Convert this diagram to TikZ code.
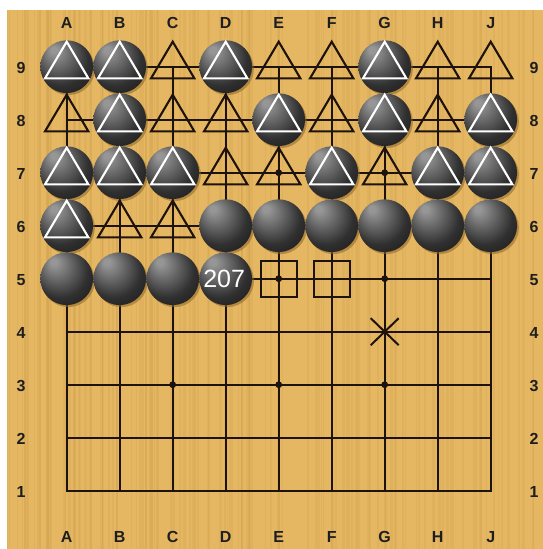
\documentclass[tikz,border=0pt]{standalone}
\usepackage{fontspec}
\setmainfont{Liberation Sans}
\usetikzlibrary{calc}
\definecolor{wood}{RGB}{229,183,98}
\definecolor{woodstripe}{RGB}{190,140,60}
\definecolor{gridc}{RGB}{30,18,12}
\definecolor{stonehi}{RGB}{150,150,150}
\definecolor{stonemid}{RGB}{48,48,48}
\definecolor{shadowc}{RGB}{140,100,40}
\definecolor{labelc}{RGB}{30,30,30}
\pgfdeclareradialshading{stoneshade}{\pgfpoint{-13bp}{17bp}}{color(0bp)=(stonehi); color(3bp)=(stonehi); color(26bp)=(stonemid); color(42bp)=(black!92); color(50bp)=(black)}
\tikzset{
  gridline/.style={draw=gridc, line width=1.7pt},
  lab/.style={font=\fontsize{16}{16}\selectfont\bfseries, text=labelc, inner sep=0pt},
  bstone/.pic={
    \fill[shadowc, opacity=0.55] (1.8,2.0) circle (26.4pt);
    \shade[shading=stoneshade] (0,0) circle (26.4pt);
  },
  tri/.pic={
    \draw[line width=2.1pt, line join=miter, pic actions] (0,-25) -- (-21.7,11.7) -- (21.7,11.7) -- cycle;
  },
  sq/.pic={
    \draw[draw=gridc, line width=2pt] (-18,-18) rectangle (18,18);
  },
  xmark/.pic={
    \draw[draw=gridc, line width=2pt] (-14,-13.5) -- (14,13.5) (-14,13.5) -- (14,-13.5);
  },
}
\begin{document}
\begin{tikzpicture}[x=1pt, y=-1pt]
  \path[use as bounding box, fill=white] (0,0) rectangle (543,549);
  \fill[wood] (7,10) rectangle (543,549);
  \pgfmathsetseed{7}
  \foreach \k in {1,...,140} {
    \pgfmathsetmacro\xx{7+rnd*533}
    \pgfmathsetmacro\ww{0.6+rnd*2.2}
    \fill[woodstripe, opacity=0.13] (\xx,10) rectangle (\xx+\ww,549);
  }
  % coordinates
  \foreach \c [count=\i from 0] in {A,B,C,D,E,F,G,H,J} {
    \foreach \r in {1,...,9} {
      \coordinate (\c\r) at ({66.7+53*\i},{66.7+53*(9-\r)});
    }
  }
  % grid
  \draw[gridline] (A1) rectangle (J9);
  \foreach \c in {B,C,D,E,F,G,H} { \draw[gridline] (\c1) -- (\c9); }
  \foreach \r in {2,...,8} { \draw[gridline] (A\r) -- (J\r); }
  % hoshi
  \foreach \p in {C3,E3,G3,C5,E5,G5,C7,E7,G7} { \fill[gridc] (\p) circle (3.4pt); }
  % labels
  \foreach \c [count=\i from 0] in {A,B,C,D,E,F,G,H,J} {
    \node[lab] (top\c) at ({66.7+53*\i},23) {\c};
    \node[lab] (bot\c) at ({66.7+53*\i},537) {\c};
  }
  \foreach \r in {1,...,9} {
    \node[lab] (left\r) at (21,{66.7+53*(9-\r)+1}) {\r};
    \node[lab] (right\r) at (534,{66.7+53*(9-\r)+1}) {\r};
  }
  % stones
  \foreach \p in {A9,B9,D9,G9,B8,E8,G8,J8,A7,B7,C7,F7,H7,J7,A6,D6,E6,F6,G6,H6,J6,A5,B5,C5,D5} {
    \pic at (\p) {bstone};
  }
  % white triangles on stones
  \foreach \p in {A9,B9,D9,G9,B8,E8,G8,J8,A7,B7,C7,F7,H7,J7,A6} {
    \pic[draw=white] at (\p) {tri};
  }
  % black triangles on empty points
  \foreach \p in {C9,E9,F9,H9,J9,A8,C8,D8,F8,H8,D7,E7,G7,B6,C6} {
    \pic[draw=gridc] at (\p) {tri};
  }
  % squares and cross
  \pic at (E5) {sq};
  \pic at (F5) {sq};
  \pic at (G4) {xmark};
  % move number
  \node[font=\fontsize{25}{25}\selectfont, text=white, inner sep=0pt] (n207) at ($(D5)+(-1.5,0.5)$) {207};
\end{tikzpicture}
\end{document}
